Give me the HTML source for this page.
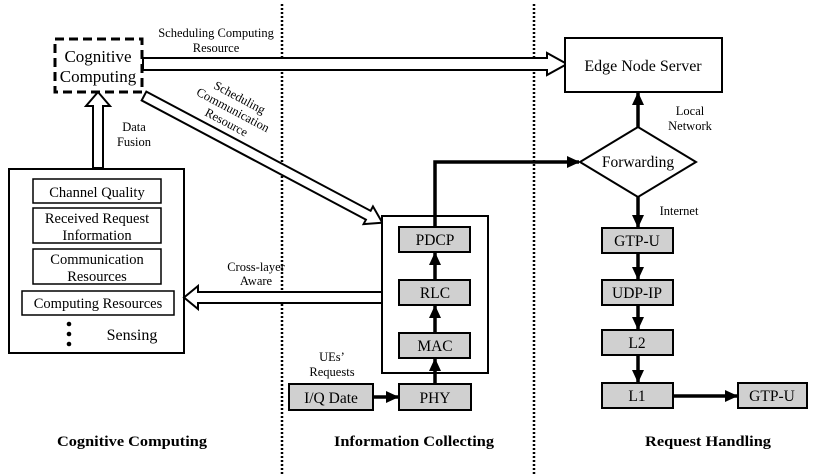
<!DOCTYPE html>
<html><head><meta charset="utf-8"><style>
html,body{margin:0;padding:0;background:#fff}
svg{display:block}
text{font-family:"Liberation Serif",serif;fill:#000}
</style></head><body>
<svg width="818" height="476" viewBox="0 0 818 476" xmlns="http://www.w3.org/2000/svg">
<defs>
<marker id="ah" markerWidth="14" markerHeight="14" refX="12" refY="7" orient="auto" markerUnits="userSpaceOnUse"><path d="M0,1 L13,7 L0,13 z" fill="#000"/></marker>
</defs>
<line x1="282" y1="4" x2="282" y2="476" stroke="#000" stroke-width="2.5" stroke-dasharray="2,2"/>
<line x1="534" y1="4" x2="534" y2="476" stroke="#000" stroke-width="2.5" stroke-dasharray="2,2"/>

<rect x="55" y="39" width="87" height="53" fill="#fff" stroke="#000" stroke-width="3" stroke-dasharray="9,5"/>
<text x="98" y="62" font-size="17" text-anchor="middle">Cognitive</text>
<text x="98" y="82" font-size="17" text-anchor="middle">Computing</text>

<path d="M143,58 L547,58 L547,53 L567,64 L547,75 L547,70 L143,70 z" fill="#fff" stroke="#000" stroke-width="2"/>
<text x="216" y="37" font-size="12.5" text-anchor="middle">Scheduling Computing</text>
<text x="216" y="52" font-size="12.5" text-anchor="middle">Resource</text>

<rect x="565" y="38" width="157" height="54" fill="#fff" stroke="#000" stroke-width="2"/>
<text x="643" y="71" font-size="16" text-anchor="middle">Edge Node Server</text>

<g transform="translate(144,96) rotate(28)">
<path d="M0,-5 L254,-5 L254,-10 L270,0 L254,10 L254,5 L0,5 z" fill="#fff" stroke="#000" stroke-width="2"/>
</g>
<g transform="translate(233,110) rotate(28)" font-size="12.5">
<text x="0" y="-10" text-anchor="middle">Scheduling</text>
<text x="0" y="4" text-anchor="middle">Communication</text>
<text x="0" y="18" text-anchor="middle">Resource</text>
</g>

<path d="M93,168 L93,106 L86,106 L98,92 L110,106 L103,106 L103,168 z" fill="#fff" stroke="#000" stroke-width="2"/>
<text x="134" y="131" font-size="12.5" text-anchor="middle">Data</text>
<text x="134" y="146" font-size="12.5" text-anchor="middle">Fusion</text>

<rect x="9" y="169" width="175" height="184" fill="#fff" stroke="#000" stroke-width="2"/>
<rect x="33" y="179" width="128" height="24" fill="#fff" stroke="#000" stroke-width="1.5"/>
<text x="97" y="197" font-size="14.5" text-anchor="middle">Channel Quality</text>
<rect x="33" y="208" width="128" height="35" fill="#fff" stroke="#000" stroke-width="1.5"/>
<text x="97" y="223" font-size="14.5" text-anchor="middle">Received Request</text>
<text x="97" y="240" font-size="14.5" text-anchor="middle">Information</text>
<rect x="33" y="249" width="128" height="35" fill="#fff" stroke="#000" stroke-width="1.5"/>
<text x="97" y="264" font-size="14.5" text-anchor="middle">Communication</text>
<text x="97" y="281" font-size="14.5" text-anchor="middle">Resources</text>
<rect x="22" y="291" width="152" height="24" fill="#fff" stroke="#000" stroke-width="1.5"/>
<text x="98" y="308" font-size="14.5" text-anchor="middle">Computing Resources</text>
<circle cx="69" cy="324" r="2.3"/><circle cx="69" cy="334" r="2.3"/><circle cx="69" cy="344" r="2.3"/>
<text x="132" y="340" font-size="16" text-anchor="middle">Sensing</text>

<path d="M382,292 L198,292 L198,286 L184,297.5 L198,309 L198,303 L382,303 z" fill="#fff" stroke="#000" stroke-width="2"/>
<text x="256" y="271" font-size="12.5" text-anchor="middle">Cross-layer</text>
<text x="256" y="285" font-size="12.5" text-anchor="middle">Aware</text>

<rect x="382" y="216" width="106" height="157" fill="#fff" stroke="#000" stroke-width="2"/>
<g fill="#d0d0d0" stroke="#000" stroke-width="2">
<rect x="399" y="227" width="71" height="25"/>
<rect x="399" y="280" width="71" height="25"/>
<rect x="399" y="333" width="71" height="25"/>
<rect x="399" y="384" width="72" height="26"/>
<rect x="289" y="384" width="84" height="26"/>
</g>
<text x="435" y="245" font-size="15.5" text-anchor="middle">PDCP</text>
<text x="435" y="298" font-size="15.5" text-anchor="middle">RLC</text>
<text x="435" y="351" font-size="15.5" text-anchor="middle">MAC</text>
<text x="435" y="403" font-size="15.5" text-anchor="middle">PHY</text>
<text x="331" y="403" font-size="15.5" text-anchor="middle">I/Q Date</text>
<g stroke="#000" stroke-width="3.5" marker-end="url(#ah)">
<line x1="435" y1="384" x2="435" y2="359"/>
<line x1="435" y1="333" x2="435" y2="306"/>
<line x1="435" y1="280" x2="435" y2="253"/>
<line x1="373" y1="397" x2="398" y2="397"/>
</g>
<text x="332" y="361" font-size="12.5" text-anchor="middle">UEs’</text>
<text x="332" y="376" font-size="12.5" text-anchor="middle">Requests</text>

<polyline points="435,227 435,162 579,162" fill="none" stroke="#000" stroke-width="3.5" marker-end="url(#ah)"/>

<polygon points="580,162 638,127 696,162 638,197" fill="#fff" stroke="#000" stroke-width="2"/>
<text x="638" y="167" font-size="15.5" text-anchor="middle">Forwarding</text>
<g stroke="#000" stroke-width="3.5" marker-end="url(#ah)">
<line x1="638" y1="127" x2="638" y2="93"/>
<line x1="638" y1="197" x2="638" y2="227"/>
<line x1="638" y1="253" x2="638" y2="279"/>
<line x1="638" y1="305" x2="638" y2="329"/>
<line x1="638" y1="355" x2="638" y2="382"/>
<line x1="673" y1="396" x2="737" y2="396"/>
</g>
<text x="690" y="115" font-size="12.5" text-anchor="middle">Local</text>
<text x="690" y="130" font-size="12.5" text-anchor="middle">Network</text>
<text x="679" y="215" font-size="12.5" text-anchor="middle">Internet</text>

<g fill="#d0d0d0" stroke="#000" stroke-width="2">
<rect x="602" y="228" width="71" height="25"/>
<rect x="602" y="280" width="71" height="25"/>
<rect x="602" y="330" width="71" height="25"/>
<rect x="602" y="383" width="71" height="25"/>
<rect x="738" y="383" width="69" height="25"/>
</g>
<text x="637" y="246" font-size="15.5" text-anchor="middle">GTP-U</text>
<text x="637" y="298" font-size="15.5" text-anchor="middle">UDP-IP</text>
<text x="637" y="348" font-size="15.5" text-anchor="middle">L2</text>
<text x="637" y="401" font-size="15.5" text-anchor="middle">L1</text>
<text x="772" y="401" font-size="15.5" text-anchor="middle">GTP-U</text>

<text x="132" y="446" font-size="15" font-weight="bold" text-anchor="middle" textLength="150" lengthAdjust="spacingAndGlyphs">Cognitive Computing</text>
<text x="414" y="446" font-size="15" font-weight="bold" text-anchor="middle" textLength="160" lengthAdjust="spacingAndGlyphs">Information Collecting</text>
<text x="708" y="446" font-size="15" font-weight="bold" text-anchor="middle" textLength="126" lengthAdjust="spacingAndGlyphs">Request Handling</text>
</svg>
</body></html>
